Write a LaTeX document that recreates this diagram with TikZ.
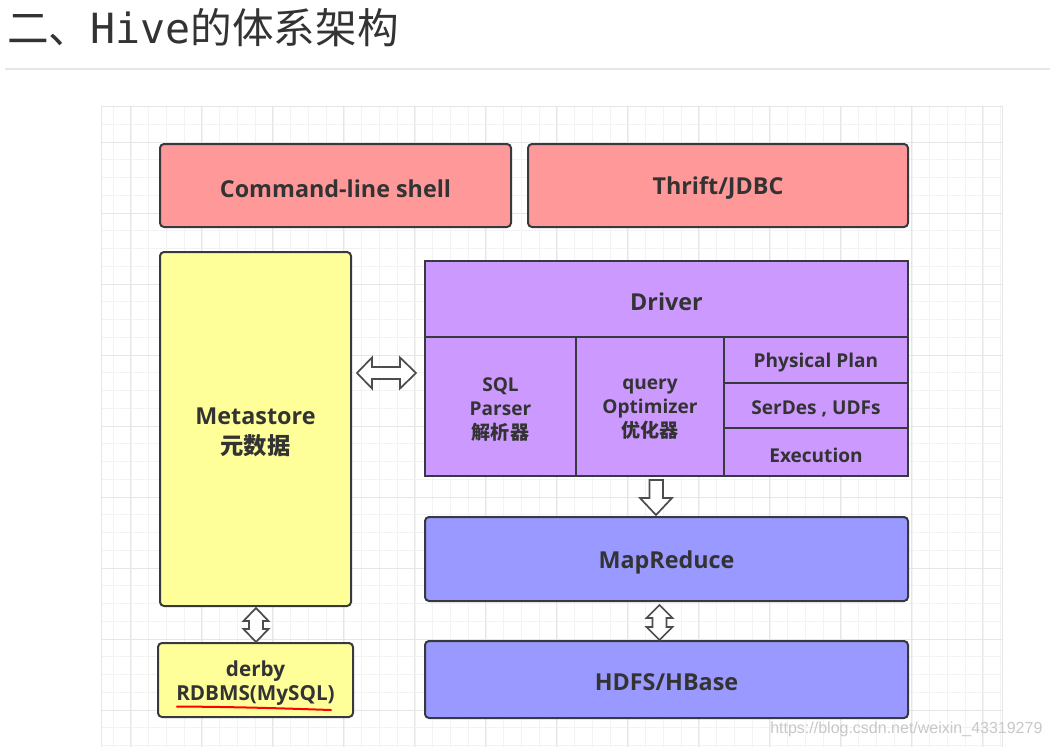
\documentclass[tikz,border=0pt]{standalone}
\usepackage{fontspec}
\newfontfamily\cjk{Noto Sans CJK SC}
\newfontfamily\lat{Open Sans}
\newfontfamily\mono{DejaVu Sans Mono}
\newfontfamily\wm{Liberation Sans}
\usetikzlibrary{fit}
\definecolor{txt}{HTML}{333333}
\definecolor{bd}{HTML}{36393D}
\definecolor{pinkf}{HTML}{FF9999}
\definecolor{yelf}{HTML}{FFFF99}
\definecolor{purf}{HTML}{CC99FF}
\definecolor{bluf}{HTML}{9999FF}
\definecolor{gmin}{HTML}{F3F3F3}
\definecolor{gmaj}{HTML}{E6E6E6}
\definecolor{arr}{HTML}{4D4D4D}
\begin{document}
\begin{tikzpicture}[x=0.75pt,y=-0.75pt,
  box/.style={draw=bd, line width=1.5pt, rounded corners=3pt, inner sep=0pt},
  cell/.style={draw=bd, line width=1.5pt, inner sep=0pt, fill=purf},
  lbl/.style={text=txt, align=center, inner sep=0pt, yshift=-2.2pt},
  big/.style={lbl, font=\lat\bfseries\fontsize{17.5}{22.5}\selectfont},
  small/.style={lbl, font=\lat\bfseries\fontsize{14.3}{18}\selectfont},
  mid/.style={lbl, font=\lat\bfseries\fontsize{15.5}{18}\selectfont},
  blockarrow/.style={draw=arr, line width=1.3pt, fill=white, line join=miter},
  minorline/.style={draw=gmin, line width=0.75pt},
  majorline/.style={draw=gmaj, line width=0.75pt}]
\useasboundingbox (0,0) rectangle (1050,747);
% title
\node[anchor=base west, inner sep=0pt, text=txt] (title) at (7,43)
  {\fontsize{31.2}{36}\selectfont\cjk 二、\mono Hive\cjk 的体系架构};
\draw[gmaj, line width=1.2pt] (5,69) -- (1050,69);
% grid
\foreach \i in {0,...,50} \draw[minorline] ({113.3+17.75*\i},106) -- ({113.3+17.75*\i},747);
\foreach \j in {0,...,35} \draw[minorline] (101,{124.3+17.75*\j}) -- (1002,{124.3+17.75*\j});
\foreach \i in {0,...,12} \draw[majorline] ({130.7+71*\i},106) -- ({130.7+71*\i},747);
\foreach \j in {0,...,8} \draw[majorline] (101,{142.7+71*\j}) -- (1002,{142.7+71*\j});
\draw[gmaj, line width=0.75pt] (101,747) -- (101,106) -- (1002,106) -- (1002,747);
% boxes
\node[box, fill=pinkf, fit={(160,144)(511,227)}] (cmd) {};
\node[box, fill=pinkf, fit={(528,144)(908,227)}] (thrift) {};
\node[box, fill=yelf, fit={(160,252)(351,606)}] (meta) {};
\node[cell, fit={(425,261)(908,337)}] (drv) {};
\node[cell, fit={(425,337)(576,476)}] (parser) {};
\node[cell, fit={(576,337)(724,476)}] (opt) {};
\node[cell, fit={(724,337)(908,383)}] (plan) {};
\node[cell, fit={(724,383)(908,428)}] (serdes) {};
\node[cell, fit={(724,428)(908,476)}] (exec) {};
\node[box, fill=bluf, fit={(425,517)(908,601)}] (mr) {};
\node[box, fill=bluf, fit={(425,641)(908,718)}] (hdfs) {};
\node[box, fill=yelf, fit={(158,643)(353,717)}] (derby) {};
% labels
\node[big] (cmd-t) at (cmd.center) {Command-line shell};
\node[big] (thrift-t) at (thrift.center) {Thrift/JDBC};
\node[big] (meta-t) at (meta.center) {Metastore\\{\cjk\bfseries 元数据}};
\node[big] (drv-t) at (drv.center) {Driver};
\node[small] (parser-t) at (parser.center) {SQL\\Parser\\{\cjk\bfseries 解析器}};
\node[small] (opt-t) at (opt.center) {query\\Optimizer\\{\cjk\bfseries 优化器}};
\node[small] (plan-t) at (plan.center) {Physical Plan};
\node[small] (serdes-t) at (serdes.center) {SerDes , UDFs};
\node[small] (exec-t) at (exec.center) {Execution};
\node[big] (mr-t) at (mr.center) {MapReduce};
\node[big] (hdfs-t) at (hdfs.center) {HDFS/HBase};
\node[mid] (derby-t) at (derby.center) {derby\\RDBMS(MySQL)};
% red underline
\draw[red, line width=1.5pt, line cap=round] (177,706.5) .. controls (250,707) and (300,709) .. (331,710);
% block arrows
\draw[blockarrow] (357,373) -- (372,357.5) -- (372,367) -- (400,367) -- (400,357.5) -- (416,373)
  -- (400,388.5) -- (400,379) -- (372,379) -- (372,388.5) -- cycle;
\draw[blockarrow] (649.5,480) -- (663,480) -- (663,498) -- (672,498) -- (656,515) -- (640,498) -- (649.5,498) -- cycle;
\draw[blockarrow] (256,608) -- (268.5,621) -- (263,621) -- (263,629) -- (268.5,629) -- (256,642)
  -- (243.5,629) -- (249,629) -- (249,621) -- (243.5,621) -- cycle;
\draw[blockarrow] (659.5,605) -- (672.5,618) -- (666.5,618) -- (666.5,627) -- (672.5,627) -- (659.5,640)
  -- (646.5,627) -- (652.5,627) -- (652.5,618) -- (646.5,618) -- cycle;
% watermark
\node[anchor=base west, inner sep=0pt, text=black!22, font=\wm\fontsize{12}{14}\selectfont] (wmark) at (770,733) {https://blog.csdn.net/weixin\_43319279};
\end{tikzpicture}
\end{document}
